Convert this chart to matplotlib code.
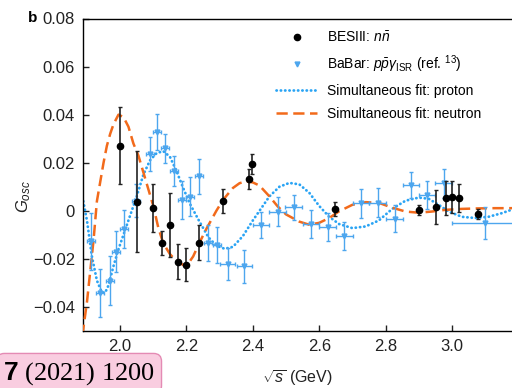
import matplotlib
matplotlib.use("Agg")
import matplotlib.pyplot as plt
from matplotlib.lines import Line2D

plt.rcParams['font.family'] = ['Liberation Sans', 'DejaVu Sans']
plt.rcParams['mathtext.fontset'] = 'custom'
plt.rcParams['mathtext.rm'] = 'Liberation Sans'
plt.rcParams['mathtext.it'] = 'Liberation Sans:italic'
plt.rcParams['mathtext.bf'] = 'Liberation Sans:bold'

# BESIII n nbar points
bes_s = [2.000, 2.050, 2.100, 2.125, 2.150, 2.175, 2.200, 2.238, 2.310, 2.387,
         2.397, 2.647, 2.902, 2.952, 2.983, 3.000, 3.020, 3.080]
bes_g = [0.027, 0.0037, 0.0012, -0.0134, -0.0058, -0.0211, -0.0224, -0.0133, 0.0039, 0.0131,
         0.0195, 0.0007, 0.0004, 0.0015, 0.0053, 0.0057, 0.0053, -0.0012]
bes_err = [0.016, 0.021, 0.010, 0.005, 0.0133, 0.0072, 0.007, 0.0073, 0.005, 0.0041,
           0.004, 0.003, 0.002, 0.007, 0.0071, 0.0068, 0.006, 0.002]

# BaBar p pbar gamma_ISR points
babar_s = [1.912, 1.940, 1.970, 1.987, 2.012, 2.048, 2.090, 2.111, 2.136, 2.163,
           2.186, 2.211, 2.238, 2.266, 2.293, 2.324, 2.374, 2.424, 2.475, 2.523,
           2.575, 2.625, 2.676, 2.726, 2.776, 2.827, 2.877, 2.925, 2.975, 3.100]
babar_g = [-0.0127, -0.034, -0.029, -0.017, -0.0075, 0.0042, 0.0237, 0.0328, 0.026, 0.0165,
           0.0046, 0.0059, 0.0143, -0.0134, -0.0142, -0.022, -0.023, -0.0058, -0.0003, 0.0015,
           -0.0054, -0.0069, -0.0106, 0.0032, 0.0034, -0.0033, 0.0108, 0.0066, 0.0115, -0.0051]
babar_err = [0.0118, 0.010, 0.0103, 0.0084, 0.0079, 0.0068, 0.007, 0.0073, 0.006, 0.0062,
             0.0079, 0.008, 0.0072, 0.0073, 0.0075, 0.0066, 0.0069, 0.0055, 0.006, 0.0052,
             0.0058, 0.0058, 0.0059, 0.006, 0.006, 0.0057, 0.0055, 0.0059, 0.006, 0.0065]
babar_serr = [0.012, 0.012, 0.012, 0.012, 0.012, 0.012, 0.012, 0.012, 0.012, 0.012,
              0.012, 0.012, 0.012, 0.012, 0.012, 0.023, 0.023, 0.025, 0.025, 0.025,
              0.025, 0.025, 0.025, 0.025, 0.025, 0.025, 0.025, 0.025, 0.025, 0.100]

# simultaneous fit, proton
proton_s = [1.889, 1.900, 1.915, 1.930, 1.945, 1.955, 1.965, 1.980, 1.995, 2.010,
            2.030, 2.050, 2.070, 2.090, 2.110, 2.130, 2.150, 2.170, 2.190, 2.210,
            2.236, 2.266, 2.290, 2.315, 2.340, 2.370, 2.400, 2.422, 2.450, 2.480,
            2.510, 2.540, 2.570, 2.600, 2.630, 2.660, 2.700, 2.740, 2.780, 2.820,
            2.860, 2.900, 2.930, 2.960, 2.990, 3.030, 3.070, 3.110, 3.150, 3.181]
proton_g = [0.004, -0.004, -0.019, -0.029, -0.034, -0.034, -0.031, -0.023, -0.016, -0.010,
            -0.002, 0.006, 0.015, 0.021, 0.024, 0.0248, 0.0225, 0.0165, 0.0095, 0.003,
            -0.0037, -0.011, -0.0145, -0.0158, -0.015, -0.0105, -0.004, 0.0004, 0.006, 0.010,
            0.0116, 0.011, 0.0075, 0.002, -0.0025, -0.0055, -0.0072, -0.0065, -0.004, 0.0008,
            0.0042, 0.0055, 0.005, 0.0025, -0.0003, -0.0025, -0.003, -0.0025, -0.001, 0.0005]

# simultaneous fit, neutron
neutron_s = [1.886, 1.900, 1.910, 1.920, 1.930, 1.940, 1.950, 1.960, 1.970, 1.980,
             1.995, 2.010, 2.025, 2.040, 2.055, 2.070, 2.085, 2.100, 2.115, 2.130,
             2.150, 2.170, 2.190, 2.205, 2.220, 2.240, 2.260, 2.290, 2.310, 2.340,
             2.360, 2.380, 2.400, 2.420, 2.450, 2.475, 2.500, 2.540, 2.570, 2.600,
             2.630, 2.660, 2.700, 2.740, 2.780, 2.820, 2.860, 2.900, 2.940, 2.980,
             3.030, 3.080, 3.130, 3.181]
neutron_g = [-0.052, -0.038, -0.025, -0.012, 0.004, 0.012, 0.020, 0.027, 0.032, 0.036,
             0.040, 0.039, 0.035, 0.028, 0.023, 0.016, 0.009, 0.002, -0.007, -0.0135,
             -0.018, -0.021, -0.0225, -0.022, -0.019, -0.013, -0.0075, 0.000, 0.0045, 0.0095,
             0.0115, 0.0122, 0.0118, 0.0105, 0.006, 0.0018, -0.0015, -0.0045, -0.0058, -0.005,
             -0.003, -0.0002, 0.0025, 0.0036, 0.0033, 0.0013, -0.0003, -0.0008, -0.0003, 0.0004,
             0.0008, 0.0010, 0.0011, 0.0011]

blue_pts = '#4da6ee'
blue_fit = '#2aa4f4'
orange = '#f26a1b'

fig = plt.figure(figsize=(5.12, 3.88), dpi=100)
ax = fig.add_axes([83.3 / 512, 1 - 331 / 388, 1 - 83.3 / 512, (331 - 18.5) / 388])

ax.plot(proton_s, proton_g, color=blue_fit, lw=2.0, linestyle=(0, (0.1, 1.45)),
        dash_capstyle='round', zorder=2)
ax.plot(neutron_s, neutron_g, color=orange, lw=1.8, linestyle=(0, (4.5, 2.2)), zorder=3)

ax.errorbar(babar_s, babar_g, yerr=babar_err, xerr=babar_serr, fmt='v', ms=3.5,
            color=blue_pts, ecolor=blue_pts, elinewidth=1.0, capsize=1.5, capthick=1.0, zorder=4)
ax.errorbar(bes_s, bes_g, yerr=bes_err, fmt='o', ms=4.5, color='black', ecolor='#222222',
            elinewidth=1.2, capsize=1.5, capthick=1.0, zorder=5)

ax.set_xlim(1.889, 3.181)
ax.set_ylim(-0.05, 0.08)
ax.set_xticks([2.0, 2.2, 2.4, 2.6, 2.8, 3.0])
ax.set_xticklabels(['2.0', '2.2', '2.4', '2.6', '2.8', '3.0'])
ax.set_yticks([-0.04, -0.02, 0, 0.02, 0.04, 0.06, 0.08])
ax.set_yticklabels(['\u22120.04', '\u22120.02', '0', '0.02', '0.04', '0.06', '0.08'])
ax.tick_params(direction='in', length=4, width=1, labelsize=12, colors='#222222')
ax.tick_params(axis='x', pad=6)
ax.tick_params(axis='y', pad=6)
ax.spines['right'].set_visible(False)
for sp in ['left', 'top', 'bottom']:
    ax.spines[sp].set_linewidth(1.0)

ax.set_xlabel(r'$\sqrt{s}$ (GeV)', fontsize=11.5, labelpad=10, color='#222222')
ax.set_ylabel(r'$G_{osc}$', fontsize=12, color='#222222')
ax.yaxis.set_label_coords(-0.118, 0.43)

handles = [
    Line2D([], [], marker='o', color='black', ls='none', ms=4.5),
    Line2D([], [], marker='v', color=blue_pts, ls='none', ms=3.5),
    Line2D([], [], color=blue_fit, lw=2.0, linestyle=(0, (0.1, 1.45)), dash_capstyle='round'),
    Line2D([], [], color=orange, lw=1.8, linestyle=(0, (4.5, 2.2))),
]
labels = [r'BESIII: $n\bar{n}$',
          r'BaBar: $p\bar{p}\gamma_{\rm ISR}$ (ref. $^{13}$)',
          'Simultaneous fit: proton',
          'Simultaneous fit: neutron']
ax.legend(handles, labels, loc='upper left', bbox_to_anchor=(0.449, 0.962),
          frameon=False, fontsize=10, handlelength=3.0, handletextpad=0.72,
          labelspacing=0.62, borderpad=0, borderaxespad=0)

fig.text(0.055, 0.953, 'b', fontsize=11, fontweight='bold', va='center', ha='left')

fig.text(0.006, 0.022, r'$\mathbf{7}$ (2021) 1200', fontsize=19, family='Liberation Serif',
         va='baseline', ha='left',
         bbox=dict(boxstyle='round,pad=0.25,rounding_size=0.3', fc='#f9cde0', ec='#e48bb4', lw=1))

plt.savefig('out.png', dpi=100)
